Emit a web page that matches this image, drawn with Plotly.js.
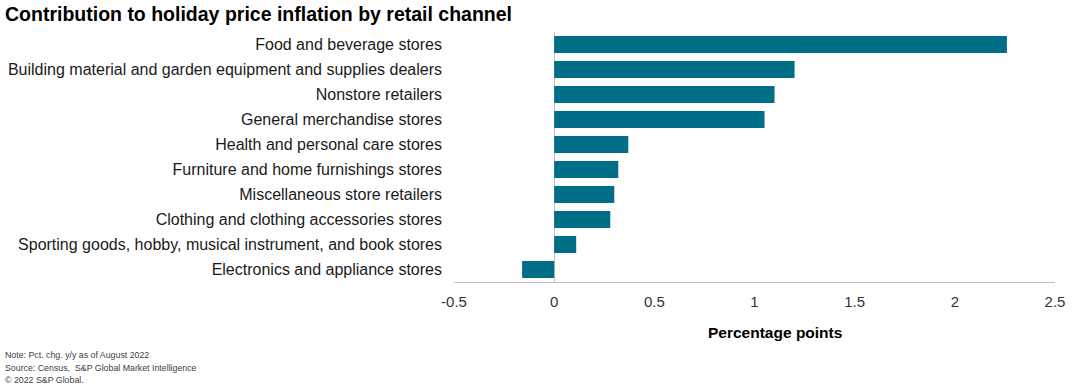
<!DOCTYPE html>
<html>
<head>
<meta charset="utf-8">
<script src="https://cdn.plot.ly/plotly-3.0.1.min.js"></script>
<style>html,body{margin:0;padding:0;background:#fff;}#chart{width:1080px;height:389px;}</style>
</head>
<body>
<div id="chart"></div>
<script>
const categories = [
  "Food and beverage stores",
  "Building material and garden equipment and supplies dealers",
  "Nonstore retailers",
  "General merchandise stores",
  "Health and personal care stores",
  "Furniture and home furnishings stores",
  "Miscellaneous store retailers",
  "Clothing and clothing accessories stores",
  "Sporting goods, hobby, musical instrument, and book stores",
  "Electronics and appliance stores"
];
const values = [2.26, 1.20, 1.10, 1.05, 0.37, 0.32, 0.30, 0.28, 0.11, -0.16];
const tickVals = [-0.5, 0, 0.5, 1, 1.5, 2, 2.5];
const tickText = ["-0.5", "0", "0.5", "1", "1.5", "2", "2.5"];
const titleText = "Contribution to holiday price inflation by retail channel";
const xTitle = "Percentage points";
const notes = [
  "Note: Pct. chg. y/y as of August 2022",
  "Source: Census,  S&P Global Market Intelligence",
  "© 2022 S&P Global."
];

const W = 1080, H = 389;
const m = {l: 454, r: 25, t: 32, b: 107};
const pw = W - m.l - m.r, ph = H - m.t - m.b;
const px = x => (x - m.l) / pw;
const py = y => (H - m.b - y) / ph;

const trace = {
  type: 'bar',
  orientation: 'h',
  y: categories,
  x: values,
  marker: {color: '#006E87', line: {width: 0}},
  width: 0.68,
  hoverinfo: 'x+y'
};

const annotations = notes.map((t, i) => ({
  text: t, xref: 'paper', yref: 'paper',
  x: px(3), y: py(355 + i * 12.5),
  xanchor: 'left', yanchor: 'middle', showarrow: false,
  font: {family: 'Liberation Sans, Arial, sans-serif', size: 8.8, color: '#404040'}
}));
annotations.push({
  text: '<b>' + xTitle + '</b>', xref: 'paper', yref: 'paper',
  x: px(775), y: py(332), xanchor: 'center', yanchor: 'middle', showarrow: false,
  font: {family: 'Liberation Sans, Arial, sans-serif', size: 15.5, color: '#000'}
});

const layout = {
  width: W, height: H,
  margin: m,
  paper_bgcolor: '#fff', plot_bgcolor: '#fff',
  showlegend: false,
  font: {family: 'Liberation Sans, Arial, sans-serif', size: 16, color: '#1a1a1a'},
  title: {
    text: '<b>' + titleText + '</b>',
    xref: 'container', yref: 'container',
    x: 5 / W, xanchor: 'left', y: 1 - 14 / H, yanchor: 'middle',
    font: {family: 'Liberation Sans, Arial, sans-serif', size: 19.5, color: '#000'}
  },
  xaxis: {
    range: [-0.5, 2.5],
    tickvals: tickVals, ticktext: tickText,
    showgrid: false, zeroline: true, zerolinecolor: '#bfbfbf', zerolinewidth: 1,
    showline: true, linecolor: '#bfbfbf', linewidth: 1,
    ticks: '', ticklabelstandoff: 6, tickfont: {size: 15, color: '#333'}
  },
  yaxis: {
    autorange: 'reversed',
    showgrid: false, zeroline: false, showline: false, ticks: '',
    ticklabelstandoff: 11,
    tickfont: {size: 16, color: '#1a1a1a'}
  },
  bargap: 0.32,
  annotations: annotations
};

Plotly.newPlot('chart', [trace], layout, {displayModeBar: false, staticPlot: true});
</script>
</body>
</html>
